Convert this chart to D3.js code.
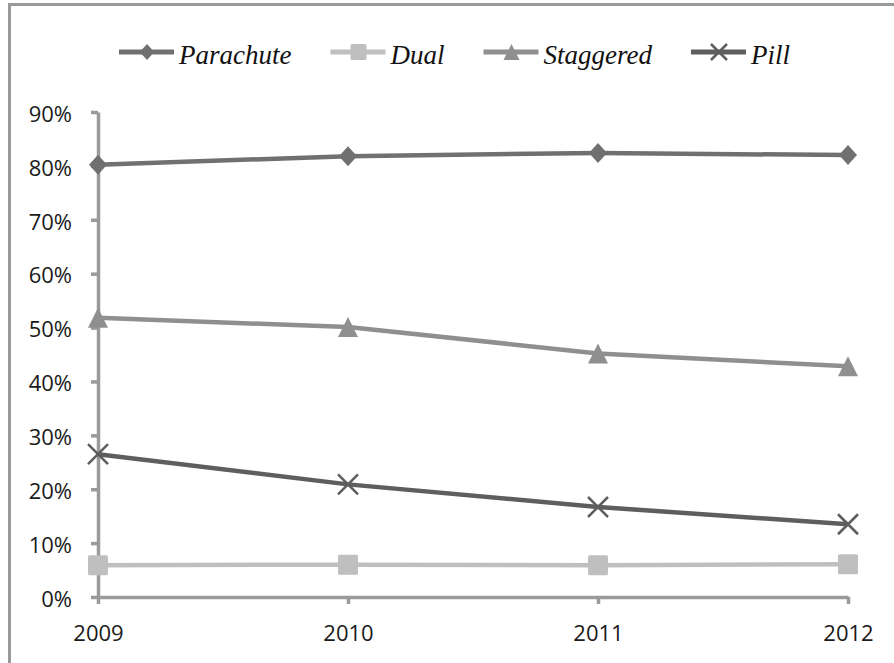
<!DOCTYPE html>
<html>
<head>
<meta charset="utf-8">
<script src="https://cdn.jsdelivr.net/npm/d3@7"></script>
<style>
  body { margin: 0; background: #fff; }
  svg { display: block; }
</style>
</head>
<body>
<div id="chart"></div>
<script>
// datos
const years = ["2009", "2010", "2011", "2012"];
const yTicks = [0, 0.1, 0.2, 0.3, 0.4, 0.5, 0.6, 0.7, 0.8, 0.9];
const parachute = [0.802, 0.818, 0.824, 0.820];
const dual = [0.059, 0.060, 0.059, 0.061];
const staggered = [0.518, 0.501, 0.452, 0.428];
const pill = [0.265, 0.209, 0.167, 0.135];

const series = [
  { name: "Parachute", values: parachute, color: "#707070", marker: "diamond" },
  { name: "Dual", values: dual, color: "#bfbfbf", marker: "square" },
  { name: "Staggered", values: staggered, color: "#8f8f8f", marker: "triangle" },
  { name: "Pill", values: pill, color: "#5e5e5e", marker: "cross" }
];

const width = 894, height = 663;
const axisColor = "#9a9a9a";

const svg = d3.select("#chart")
  .append("svg")
  .attr("width", width)
  .attr("height", height);

// marco exterior (recortado a la derecha y abajo)
svg.append("rect")
  .attr("x", 9.5)
  .attr("y", 4.5)
  .attr("width", 1000)
  .attr("height", 1000)
  .attr("fill", "none")
  .attr("stroke", axisColor)
  .attr("stroke-width", 3);

const x = d3.scalePoint()
  .domain(years)
  .range([98, 848]);

const y = d3.scaleLinear()
  .domain([0, 0.9])
  .range([597, 112]);

// ejes
const yAxis = svg.append("g")
  .attr("transform", "translate(98,0)")
  .call(d3.axisLeft(y)
    .tickValues(yTicks)
    .tickFormat(d3.format(".0%"))
    .tickSize(7)
    .tickSizeOuter(0)
    .tickPadding(19));

const xAxis = svg.append("g")
  .attr("transform", "translate(0,597)")
  .call(d3.axisBottom(x)
    .tickSize(7)
    .tickSizeOuter(0)
    .tickPadding(21));

[yAxis, xAxis].forEach(function(g) {
  g.select(".domain").attr("stroke", axisColor).attr("stroke-width", 3.5);
  g.selectAll(".tick line").attr("stroke", axisColor).attr("stroke-width", 3.5);
  g.selectAll(".tick text")
    .attr("fill", "#1a1a1a")
    .style("font-family", "'Open Sans', sans-serif")
    .style("font-size", "22px");
});
yAxis.selectAll(".tick text").attr("dy", "0.42em");

// marcadores
function drawMarker(g, type, color, size) {
  const h = size / 2;
  if (type === "diamond") {
    g.append("path")
      .attr("d", `M0,${-h}L${h * 0.9},0L0,${h}L${-h * 0.9},0Z`)
      .attr("fill", color);
  } else if (type === "square") {
    g.append("rect")
      .attr("x", -h).attr("y", -h)
      .attr("width", size).attr("height", size)
      .attr("rx", 1.5)
      .attr("fill", color);
  } else if (type === "triangle") {
    g.append("path")
      .attr("d", `M0,${-h}L${h},${h}L${-h},${h}Z`)
      .attr("fill", color);
  } else {
    g.append("path")
      .attr("d", `M${-h},${-h}L${h},${h}M${h},${-h}L${-h},${h}`)
      .attr("stroke", color)
      .attr("stroke-width", 2.5)
      .attr("fill", "none");
  }
}

const line = d3.line()
  .x((d, i) => x(years[i]))
  .y(d => y(d));

series.forEach(function(s) {
  svg.append("path")
    .datum(s.values)
    .attr("fill", "none")
    .attr("stroke", s.color)
    .attr("stroke-width", 4.5)
    .attr("d", line);

  s.values.forEach(function(v, i) {
    const g = svg.append("g")
      .attr("transform", `translate(${x(years[i])},${y(v)})`);
    drawMarker(g, s.marker, s.color, 20);
  });
});

// leyenda
const legend = svg.append("g").attr("transform", "translate(119,0)");
let lx = 0;
series.forEach(function(s) {
  const item = legend.append("g").attr("transform", `translate(${lx},0)`);
  item.append("line")
    .attr("x1", 0).attr("x2", 55)
    .attr("y1", 52).attr("y2", 52)
    .attr("stroke", s.color)
    .attr("stroke-width", 5);
  const m = item.append("g").attr("transform", "translate(28,52)");
  drawMarker(m, s.marker, s.color, 16);
  const t = item.append("text")
    .attr("x", 60)
    .attr("y", 64)
    .attr("fill", "#111")
    .style("font-family", "'Liberation Serif', 'Times New Roman', serif")
    .style("font-style", "italic")
    .style("font-size", "27px")
    .text(s.name);
  lx += 60 + t.node().getComputedTextLength() + 39;
});
</script>
</body>
</html>
